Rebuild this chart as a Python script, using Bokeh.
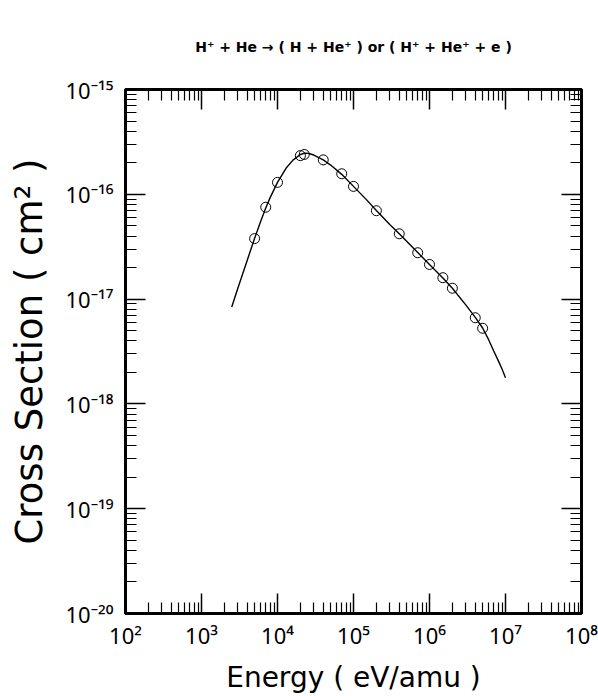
from bokeh.plotting import figure
from bokeh.models import LogAxis, FixedTicker, CustomJSTickFormatter
from bokeh.embed import file_html
from bokeh.resources import INLINE

# ---- data ----
energy_pts = [5.0e3, 7.0e3, 1.0e4, 2.0e4, 2.25e4, 4.0e4, 7.0e4, 1.0e5, 2.0e5,
              4.0e5, 7.0e5, 1.0e6, 1.5e6, 2.0e6, 4.0e6, 5.0e6]
sigma_pts = [3.78e-17, 7.53e-17, 1.30e-16, 2.34e-16, 2.40e-16, 2.13e-16, 1.57e-16,
             1.19e-16, 6.97e-17, 4.20e-17, 2.77e-17, 2.14e-17, 1.60e-17, 1.27e-17,
             6.64e-18, 5.27e-18]

energy_fit = [2.5e3, 3e3, 4e3, 5e3, 6e3, 7e3, 8e3, 1e4, 1.3e4, 1.6e4, 2e4, 2.3e4,
              2.6e4, 3e4, 4e4, 5e4, 7e4, 1e5, 1.5e5, 2e5, 3e5, 4e5, 7e5, 1e6, 1.5e6,
              2e6, 3e6, 4e6, 5e6, 6e6, 7e6, 8e6, 9e6, 1e7]
sigma_fit = [8.4e-18, 1.26e-17, 2.35e-17, 3.8e-17, 5.5e-17, 7.4e-17, 9.3e-17, 1.30e-16,
             1.78e-16, 2.12e-16, 2.40e-16, 2.47e-16, 2.45e-16, 2.37e-16, 2.13e-16,
             1.90e-16, 1.55e-16, 1.19e-16, 8.8e-17, 7.0e-17, 5.15e-17, 4.2e-17,
             2.78e-17, 2.14e-17, 1.59e-17, 1.27e-17, 8.8e-18, 6.7e-18, 5.3e-18,
             4.1e-18, 3.2e-18, 2.6e-18, 2.15e-18, 1.78e-18]

x_exponents = [2, 3, 4, 5, 6, 7, 8]
y_exponents = [-20, -19, -18, -17, -16, -15]

title_text = "H\u207a + He \u2192 ( H + He\u207a ) or ( H\u207a + He\u207a + e )"
x_title = "Energy ( eV/amu )"
y_title = "Cross Section ( cm\u00b2 )"

FONT = "Noto Sans"
TFONT = "DejaVu Sans"

p = figure(width=598, height=696, x_axis_type="log", y_axis_type="log",
           x_range=(1e2, 1e8), y_range=(1e-20, 1e-15),
           output_backend="svg", toolbar_location=None,
           min_border_left=125, min_border_right=17,
           min_border_top=89, min_border_bottom=83)
p.grid.visible = False
p.outline_line_color = "black"
p.outline_line_width = 3
p.background_fill_color = "white"
p.border_fill_color = "white"


def ticker_for(exps):
    lo, hi = min(exps), max(exps)
    majors = [10.0 ** e for e in range(lo, hi + 1)]
    minors = [k * 10.0 ** e for e in range(lo, hi) for k in range(2, 10)]
    return FixedTicker(ticks=majors, minor_ticks=minors)


pow10 = CustomJSTickFormatter(code="""
const sup = {'-': '\u207b', '0': '\u2070', '1': '\u00b9', '2': '\u00b2', '3': '\u00b3',
             '4': '\u2074', '5': '\u2075', '6': '\u2076', '7': '\u2077', '8': '\u2078',
             '9': '\u2079'};
const e = Math.round(Math.log10(tick));
return '10' + String(e).split('').map(c => sup[c]).join('');
""")

p.add_layout(LogAxis(), "above")
p.add_layout(LogAxis(), "right")

for ax in p.xaxis:
    ax.ticker = ticker_for(x_exponents)
for ax in p.yaxis:
    ax.ticker = ticker_for(y_exponents)

for ax in list(p.xaxis) + list(p.yaxis):
    ax.axis_line_width = 3
    ax.axis_line_color = "black"
    ax.major_tick_in = 20
    ax.major_tick_out = 0
    ax.minor_tick_in = 11
    ax.minor_tick_out = 0
    ax.major_tick_line_width = 1.5
    ax.minor_tick_line_width = 1.2
    ax.major_tick_line_color = "black"
    ax.minor_tick_line_color = "black"

# hidden labels on the top and right axes
for ax in (p.above[0], p.right[0]):
    ax.major_label_text_font_size = "1px"
    ax.major_label_text_alpha = 0
    ax.major_label_standoff = 0

# visible labels on the bottom and left axes
bx = p.below[0]
ly = p.left[0]
for ax in (bx, ly):
    ax.formatter = pow10
    ax.major_label_text_font = FONT
    ax.major_label_text_font_size = "22px"
    ax.major_label_text_color = "black"
    ax.axis_label_text_font = TFONT
    ax.axis_label_text_font_style = "normal"
    ax.axis_label_text_color = "black"

bx.major_label_standoff = 6
bx.axis_label = x_title
bx.axis_label_text_font_size = "28px"
bx.axis_label_standoff = 8

ly.major_label_standoff = 12
ly.axis_label = y_title
ly.axis_label_text_font_size = "37px"
ly.axis_label_standoff = 11

# title
p.title.text = title_text
p.title.align = "center"
p.title.text_font = TFONT
p.title.text_font_size = "14px"
p.title.text_font_style = "bold"
p.title.text_color = "black"
p.title.standoff = 70

# curve and data points
p.line(energy_fit, sigma_fit, line_color="black", line_width=1.4)
p.scatter(energy_pts, sigma_pts, marker="circle", size=10, fill_color=None,
          line_color="black", line_width=1)

open("out.html", "w").write(file_html(p, INLINE))
